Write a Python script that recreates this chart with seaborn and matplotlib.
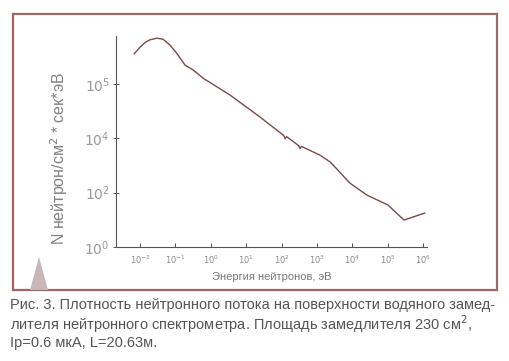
import matplotlib
matplotlib.use("Agg")
import matplotlib.pyplot as plt
import matplotlib.patches as mpatches
import seaborn as sns
import pandas as pd
import numpy as np

# energy (log10 eV) and flux (log10, in the decade units of the printed axis)
log_energy = [-2.17, -2.00, -1.86, -1.72, -1.52, -1.35, -1.15, -0.95, -0.73, -0.50,
              -0.22, 0.54, 1.39, 2.06, 2.10, 2.14, 2.48, 2.52, 2.56, 3.08,
              3.37, 3.59, 3.85, 3.93, 4.41, 5.01, 5.46, 6.05]
log_flux = [7.10, 7.35, 7.52, 7.62, 7.68, 7.64, 7.42, 7.10, 6.69, 6.51,
            6.21, 5.59, 4.78, 4.10, 3.98, 4.06, 3.73, 3.62, 3.70, 3.38,
            3.13, 2.83, 2.46, 2.35, 1.91, 1.54, 0.99, 1.25]

ytick_pos = [1e0, 1e2, 1e4, 1e6]
ytick_lab = ["$10^0$", "$10^2$", "$10^4$", "$10^5$"]
xtick_pos = [1e-2, 1e-1, 1e0, 1e1, 1e2, 1e3, 1e4, 1e5, 1e6]
xtick_lab = ["$10^{-2}$", "$10^{-1}$", "$10^{0}$", "$10^{1}$", "$10^{2}$",
             "$10^{3}$", "$10^{4}$", "$10^{5}$", "$10^{6}$"]

df = pd.DataFrame({"E": 10 ** np.array(log_energy), "N": 10 ** np.array(log_flux)})

sns.set_style("ticks")
plt.rcParams['font.family'] = ['Liberation Sans', 'DejaVu Sans']

fig = plt.figure(figsize=(5.10, 3.61), dpi=100)
ax = fig.add_axes([0.2275, 0.3158, 0.6098, 0.5845])

sns.lineplot(data=df, x="E", y="N", ax=ax, color="#7d4a46", linewidth=1.0)
ax.set_xscale("log")
ax.set_yscale("log")
ax.set_xlim(10 ** -2.68, 10 ** 6.11)
ax.set_ylim(1e0, 10 ** 7.76)

ax.set_xticks(xtick_pos)
ax.set_xticklabels(xtick_lab, fontsize=6, color="#8a8a8a")
ax.set_yticks(ytick_pos)
ax.set_yticklabels(ytick_lab, fontsize=10, color="#999999")
ax.tick_params(axis="x", direction="in", length=3, width=0.7, color="#555555", pad=5)
ax.tick_params(axis="x", which="minor", direction="in", length=2, width=0.5, color="#555555")
ax.tick_params(axis="y", direction="inout", length=5, width=0.7, color="#555555", pad=2)
ax.tick_params(axis="y", which="minor", direction="inout", length=2.5, width=0.5, color="#555555")
ax.minorticks_on()

for s in ["top", "right"]:
    ax.spines[s].set_visible(False)
for s in ["left", "bottom"]:
    ax.spines[s].set_color("#555555")
    ax.spines[s].set_linewidth(0.8)

ax.set_xlabel("Энергия нейтронов, эВ", fontsize=8, color="#777777", labelpad=4)
ax.set_ylabel("N нейтрон/см$^2$ * сек*эВ", fontsize=11.5, color="#808080")
ax.yaxis.set_label_coords(-0.148, 0.417)

# outer frame
fig.add_artist(mpatches.Rectangle((13 / 510, 1 - 290 / 361), 484 / 510, 276 / 361,
                                  transform=fig.transFigure, fill=False,
                                  edgecolor="#9a6a62", linewidth=1.6))
# grey triangle decoration
fig.add_artist(mpatches.Polygon([(30 / 510, 1 - 290 / 361), (39 / 510, 1 - 257 / 361),
                                 (48 / 510, 1 - 290 / 361)], closed=True,
                                transform=fig.transFigure, facecolor="#c9b7b7",
                                edgecolor="none"))

caption = ("Рис. 3. Плотность нейтронного потока на поверхности водяного замед-\n"
           "лителя нейтронного спектрометра. Площадь замедлителя 230 см$^2$,\n"
           "Ip=0.6 мкА, L=20.63м.")
fig.text(10 / 510, 1 - 298 / 361, caption, fontsize=10.5, color="#555555",
         va="top", ha="left", linespacing=1.08)

fig.savefig("out.png", dpi=100)
